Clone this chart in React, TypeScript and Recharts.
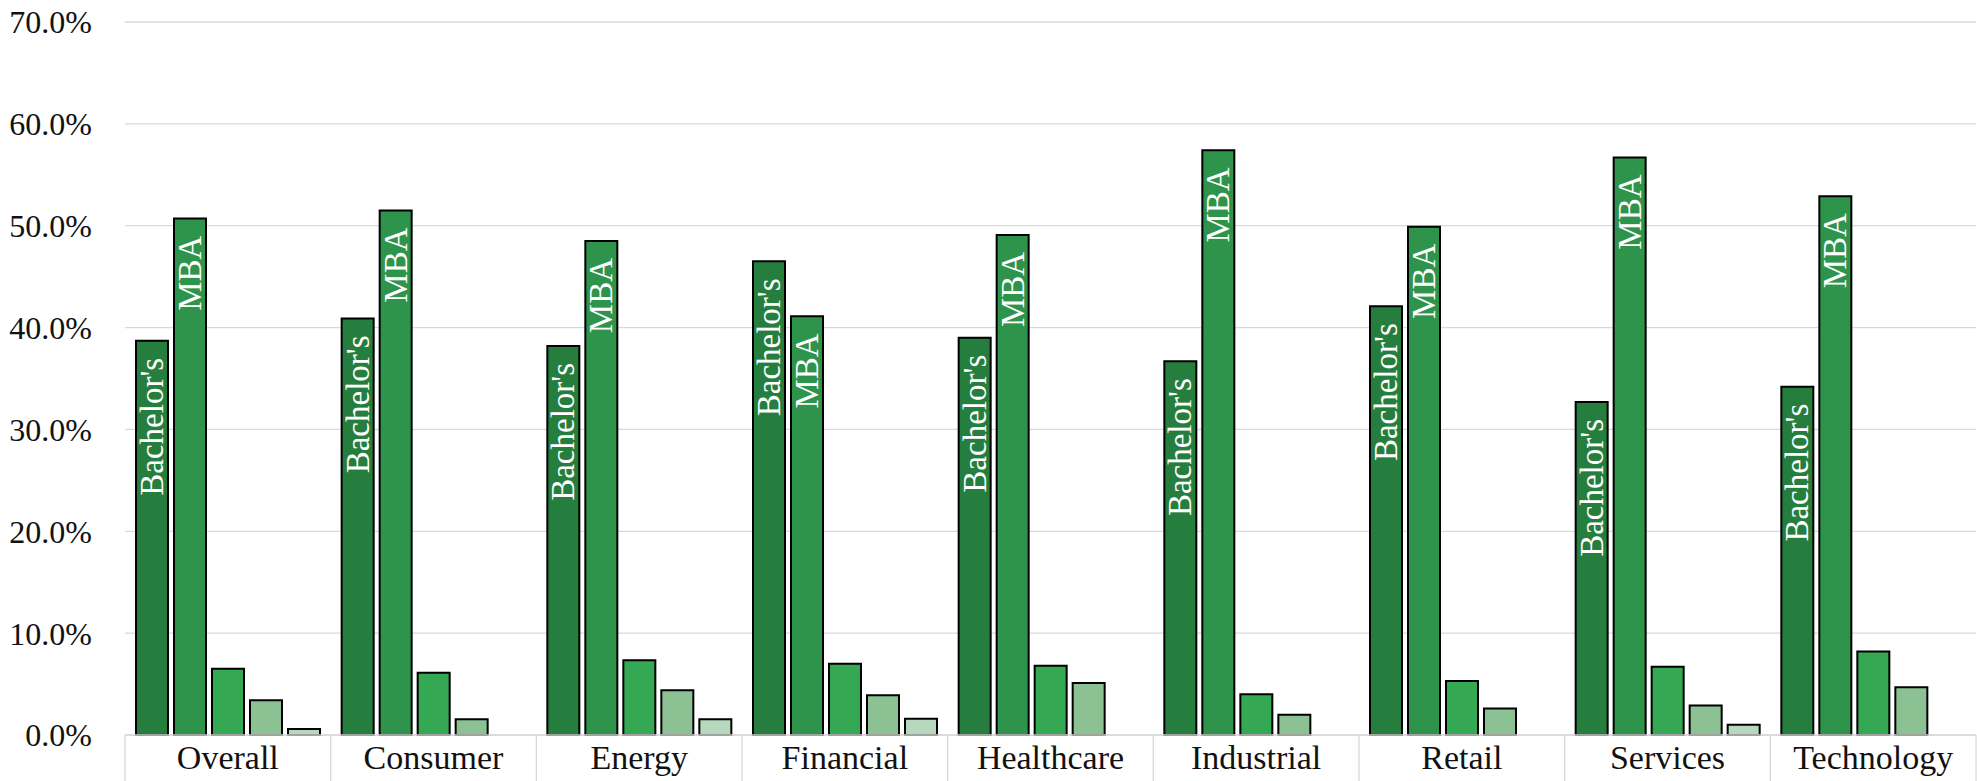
import { BarChart, Bar, XAxis, YAxis, CartesianGrid, LabelList } from "recharts";

const categories = ["Overall", "Consumer", "Energy", "Financial", "Healthcare", "Industrial", "Retail", "Services", "Technology"];
const bachelors = [38.7, 40.9, 38.2, 46.5, 39.0, 36.7, 42.1, 32.7, 34.2];
const mba = [50.7, 51.5, 48.5, 41.1, 49.1, 57.4, 49.9, 56.7, 52.9];
const masters = [6.5, 6.1, 7.35, 7.0, 6.8, 4.0, 5.3, 6.7, 8.2];
const otherGrad = [3.4, 1.55, 4.4, 3.9, 5.1, 2.0, 2.6, 2.9, 4.7];
const doctorate = [0.6, null, 1.55, 1.6, null, null, null, 1.0, null];
const yTicks = [0, 10, 20, 30, 40, 50, 60, 70];

const series = [
  { key: "bachelors", name: "Bachelor's", color: "#257e3d", label: "Bachelor's" },
  { key: "mba", name: "MBA", color: "#2f944b", label: "MBA" },
  { key: "masters", name: "Master's", color: "#34a853", label: null },
  { key: "otherGrad", name: "Other", color: "#8cc194", label: null },
  { key: "doctorate", name: "Doctorate", color: "#b6d8bd", label: null },
];

const data = categories.map((name, i) => ({
  name,
  bachelors: bachelors[i],
  mba: mba[i],
  masters: masters[i],
  otherGrad: otherGrad[i],
  doctorate: doctorate[i],
}));

const FONT = "'Liberation Serif', 'Times New Roman', serif";
const WIDTH = 1977;
const HEIGHT = 781;
const PLOT_LEFT = 125;
const PLOT_RIGHT = 1;
const BAND = (WIDTH - PLOT_LEFT - PLOT_RIGHT) / categories.length;

function CategoryTick(props: any) {
  const { x, y, payload, index } = props;
  const left = x - BAND / 2;
  const right = x + BAND / 2;
  return (
    <g>
      <line x1={left} y1={y} x2={left} y2={y + 50} stroke="#d9d9d9" strokeWidth={1.3} />
      {index === categories.length - 1 && (
        <line x1={right} y1={y} x2={right} y2={y + 50} stroke="#d9d9d9" strokeWidth={1.3} />
      )}
      <text x={x} y={y + 34} textAnchor="middle" fill="#111" fontSize={34} fontFamily={FONT}>
        {payload.value}
      </text>
    </g>
  );
}

function makeBarLabel(text: string) {
  return (props: any) => {
    const { x, y, width, value } = props;
    if (value == null) return null;
    const cx = Number(x) + Number(width) / 2;
    const ty = Number(y) + 17;
    return (
      <text
        x={cx}
        y={ty}
        transform={`rotate(-90, ${cx}, ${ty})`}
        textAnchor="end"
        dominantBaseline="central"
        fill="#ffffff"
        fontSize={33}
        fontFamily={FONT}
      >
        {text}
      </text>
    );
  };
}

export default function App() {
  return (
    <div style={{ position: "absolute", left: 0, top: 0, background: "#fff" }}>
      <BarChart
        width={WIDTH}
        height={HEIGHT}
        data={data}
        margin={{ top: 22, right: PLOT_RIGHT, bottom: 0, left: 0 }}
        barCategoryGap={11}
        barGap={6}
      >
        <CartesianGrid vertical={false} stroke="#d9d9d9" strokeWidth={1.3} />
        <XAxis
          dataKey="name"
          height={46}
          axisLine={{ stroke: "#d9d9d9", strokeWidth: 1.3 }}
          tickLine={false}
          tickSize={0}
          tickMargin={0}
          interval={0}
          tick={<CategoryTick />}
        />
        <YAxis
          width={PLOT_LEFT}
          domain={[0, 70]}
          ticks={yTicks}
          axisLine={false}
          tickLine={false}
          tickSize={0}
          tickMargin={33}
          tickFormatter={(v: number) => `${v.toFixed(1)}%`}
          tick={{ fontSize: 32, fontFamily: FONT, fill: "#111" }}
        />
        {series.map((s) => (
          <Bar
            key={s.key}
            dataKey={s.key}
            name={s.name}
            fill={s.color}
            stroke="#000"
            strokeWidth={2}
            isAnimationActive={false}
          >
            {s.label && <LabelList dataKey={s.key} content={makeBarLabel(s.label)} />}
          </Bar>
        ))}
      </BarChart>
    </div>
  );
}
